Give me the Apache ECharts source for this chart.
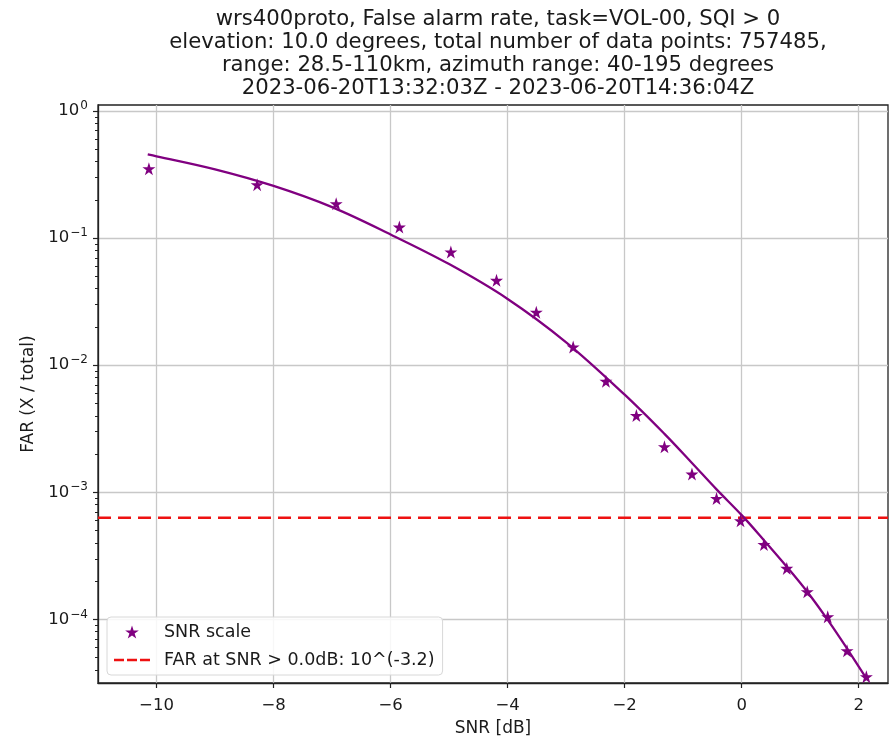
<!DOCTYPE html>
<html>
<head>
<meta charset="utf-8">
<script src="https://cdn.jsdelivr.net/npm/echarts@6/dist/echarts.min.js"></script>
<style>
  html, body { margin: 0; padding: 0; background: #fff; }
  #chart { width: 892px; height: 737px; }
</style>
</head>
<body>
<div id="chart"></div>
<script>
// Measured false-alarm rate per SNR bin
const snrPoints = [-10.13, -8.28, -6.93, -5.85, -4.97, -4.19, -3.51, -2.88, -2.32, -1.80,
                   -1.32, -0.85, -0.43, -0.02, 0.38, 0.77, 1.12, 1.47, 1.80, 2.13];
const farPoints = [0.351, 0.263, 0.186, 0.122, 0.0776, 0.0465, 0.0261, 0.0139, 0.00747, 0.00402,
                   0.00228, 0.00139, 0.000893, 0.000596, 0.000388, 0.000252, 0.000165, 0.000105, 0.0000566, 0.0000354];

// Fitted curve
const fitSnr = [-10.15, -10, -9, -8, -7, -6, -5, -4, -3, -2, -1.32, -0.85, -0.43, 0,
                0.38, 0.77, 1.12, 1.47, 1.80, 2.13];
const fitFar = [0.455, 0.440, 0.347, 0.257, 0.175, 0.1067, 0.0624, 0.0332, 0.01514, 0.00586,
                0.00288, 0.00170, 0.001054, 0.000661, 0.000420, 0.000260, 0.000165, 0.0000991, 0.0000590, 0.0000344];

// FAR at SNR > 0.0 dB: 10^(-3.2)
const farThreshold = 0.00063;

// Axes
const xRange = [-11.0, 2.5];
const yRange = [3.16e-5, 1.114];
const xTicks = [-10, -8, -6, -4, -2, 0, 2];
const yTicks = [1e-4, 1e-3, 1e-2, 1e-1, 1];
const yDecades = [1e-5, 1e-4, 1e-3, 1e-2, 1e-1];
const yMinorMultipliers = [2, 3, 4, 5, 6, 7, 8, 9];

const titleLines = [
  'wrs400proto, False alarm rate, task=VOL-00, SQI > 0',
  'elevation: 10.0 degrees, total number of data points: 757485,',
  'range: 28.5-110km, azimuth range: 40-195 degrees',
  '2023-06-20T13:32:03Z - 2023-06-20T14:36:04Z'
];
const seriesNames = ['SNR scale', 'FAR at SNR > 0.0dB: 10^(-3.2)'];

const yMinorTicks = [];
yDecades.forEach(d => yMinorMultipliers.forEach(m => {
  const v = d * m;
  if (v > yRange[0] && v < yRange[1]) yMinorTicks.push(v);
}));

const STAR = 'path://M100,0 L122.45,69.1 L195.1,69.1 L136.3,111.8 L158.8,180.9 L100,138.2 L41.2,180.9 L63.7,111.8 L4.9,69.1 L77.55,69.1 Z';
const DASH_ICON = 'path://M0,0h10v2.6h-10z M13,0h10v2.6h-10z M26,0h10v2.6h-10z';
const FONT = 'DejaVu Sans';
const PURPLE = '#800080';
const RED = '#ee1111';
const INK = '#1a1a1a';

function powLabel(v) {
  const n = Math.round(Math.log10(v));
  const e = n < 0 ? '\u2212' + (-n) : String(n);
  return '{b|10}{s|' + e + '}';
}

const chart = echarts.init(document.getElementById('chart'), null, { renderer: 'canvas' });
chart.setOption({
  animation: false,
  backgroundColor: '#fff',
  title: {
    text: titleLines.join('\n'),
    left: 493, textAlign: 'center', top: 3,
    textStyle: {
      fontFamily: FONT, fontWeight: 'normal', fontSize: 21.2, lineHeight: 23, color: INK
    }
  },
  grid: {
    left: 98, right: 4, top: 105, bottom: 54,
    outerBoundsMode: 'none', containLabel: false,
    show: true, borderColor: '#222', borderWidth: 1.3, backgroundColor: 'transparent'
  },
  legend: {
    orient: 'vertical', left: 107, top: 617,
    data: [
      { name: seriesNames[0] },
      { name: seriesNames[1], icon: DASH_ICON }
    ],
    itemWidth: 36, itemHeight: 13, itemGap: 10,
    padding: [6, 8, 6, 7],
    backgroundColor: 'rgba(255,255,255,0.85)',
    borderColor: '#d8d8d8', borderWidth: 1, borderRadius: 4,
    textStyle: { fontFamily: FONT, fontSize: 17.5, color: INK, padding: [0, 0, 0, 9] }
  },
  xAxis: {
    type: 'value', min: xRange[0], max: xRange[1],
    name: 'SNR [dB]', nameLocation: 'middle', nameGap: 37,
    nameTextStyle: { fontFamily: FONT, fontSize: 17, color: INK },
    axisLine: { show: true, onZero: false, lineStyle: { color: '#222', width: 1.3 } },
    axisTick: { show: true, customValues: xTicks, length: 5, lineStyle: { color: '#222', width: 1.2 } },
    axisLabel: {
      customValues: xTicks, margin: 14,
      fontFamily: FONT, fontSize: 16.5, color: INK,
      formatter: v => (v < 0 ? '\u2212' + (-v) : String(v))
    },
    splitLine: { show: true, lineStyle: { color: '#c8c8c8', width: 1.3 } }
  },
  yAxis: [{
    type: 'log', logBase: 10, min: yRange[0], max: yRange[1],
    name: 'FAR (X / total)', nameLocation: 'middle', nameGap: 61,
    nameTextStyle: { fontFamily: FONT, fontSize: 17, color: INK },
    axisLine: { show: true, onZero: false, lineStyle: { color: '#222', width: 1.3 } },
    axisTick: { show: true, customValues: yTicks, length: 5, lineStyle: { color: '#222', width: 1.2 } },
    axisLabel: {
      customValues: yTicks, margin: 10,
      formatter: powLabel,
      rich: {
        b: { fontFamily: FONT, fontSize: 16.5, color: INK },
        s: { fontFamily: FONT, fontSize: 12, color: INK, padding: [0, 0, 10, 1] }
      }
    },
    splitLine: { show: true, lineStyle: { color: '#c8c8c8', width: 1.3 } }
  }, {
    type: 'log', logBase: 10, min: yRange[0], max: yRange[1], position: 'left',
    axisLine: { show: false, onZero: false },
    axisTick: { show: true, customValues: yMinorTicks, length: 3, lineStyle: { color: '#222', width: 1 } },
    axisLabel: { show: false },
    splitLine: { show: false }
  }],
  series: [{
    name: 'fit',
    type: 'line',
    data: fitSnr.map((x, i) => [x, fitFar[i]]),
    symbol: 'none', smooth: 0.35,
    lineStyle: { color: PURPLE, width: 2.3 },
    z: 3
  }, {
    name: seriesNames[0],
    type: 'scatter',
    data: snrPoints.map((x, i) => [x, farPoints[i]]),
    symbol: STAR, symbolSize: 13,
    itemStyle: { color: PURPLE, opacity: 1 },
    z: 4
  }, {
    name: seriesNames[1],
    type: 'line',
    data: xRange.map(x => [x, farThreshold]),
    symbol: 'none',
    itemStyle: { color: RED },
    lineStyle: { color: RED, width: 2.5, type: [13, 7] },
    z: 2
  }]
});
</script>
</body>
</html>
